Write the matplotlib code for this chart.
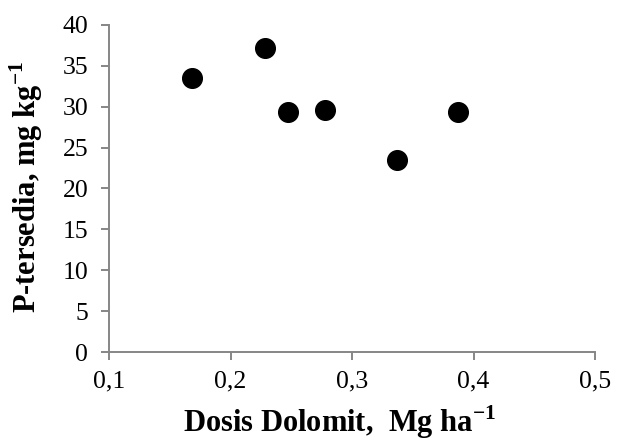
import matplotlib
matplotlib.use("Agg")
import matplotlib.pyplot as plt
from matplotlib.ticker import FuncFormatter

# dolomite dose (Mg/ha) vs available P (mg/kg)
dosis = [0.168, 0.228, 0.247, 0.278, 0.337, 0.387]
p_tersedia = [33.5, 37.2, 29.3, 29.6, 23.5, 29.3]

x_ticks = [0.1, 0.2, 0.3, 0.4, 0.5]
y_ticks = [0, 5, 10, 15, 20, 25, 30, 35, 40]

plt.rcParams['font.family'] = ['Liberation Serif', 'DejaVu Serif']
plt.rcParams['mathtext.fontset'] = 'custom'
plt.rcParams['mathtext.rm'] = 'Liberation Serif'
plt.rcParams['mathtext.bf'] = 'Liberation Serif:bold'

fig = plt.figure(figsize=(6.25, 4.43), dpi=100)
ax = fig.add_axes([0.1744, 0.2054, 0.7776, 0.7382])

ax.scatter(dosis, p_tersedia, s=200, color='black', zorder=3, clip_on=False)

ax.set_xlim(0.1, 0.5)
ax.set_ylim(0, 40)
ax.set_xticks(x_ticks)
ax.set_yticks(y_ticks)
ax.xaxis.set_major_formatter(FuncFormatter(lambda v, p: f"{v:.1f}".replace('.', ',')))

grey = '#868686'
for side in ['top', 'right']:
    ax.spines[side].set_visible(False)
for side in ['left', 'bottom']:
    ax.spines[side].set_color(grey)
    ax.spines[side].set_linewidth(1.4)
ax.tick_params(axis='both', direction='out', length=6, width=1.4, color=grey,
               labelsize=18.5, labelcolor='black')
ax.tick_params(axis='y', pad=9)
ax.tick_params(axis='x', pad=7)

ax.set_xlabel(r"Dosis Dolomit,  Mg ha$^{\mathbf{-1}}$", fontsize=22, fontweight='bold',
              va='baseline', ha='center')
ax.set_ylabel(r"P-tersedia, mg kg$^{\mathbf{-1}}$", fontsize=22, fontweight='bold',
              va='baseline', ha='center', rotation_mode='anchor')
ax.xaxis.set_label_coords(0.475, -0.246)
ax.yaxis.set_label_coords(-0.150, 0.503)

fig.savefig("out.png", dpi=100)
